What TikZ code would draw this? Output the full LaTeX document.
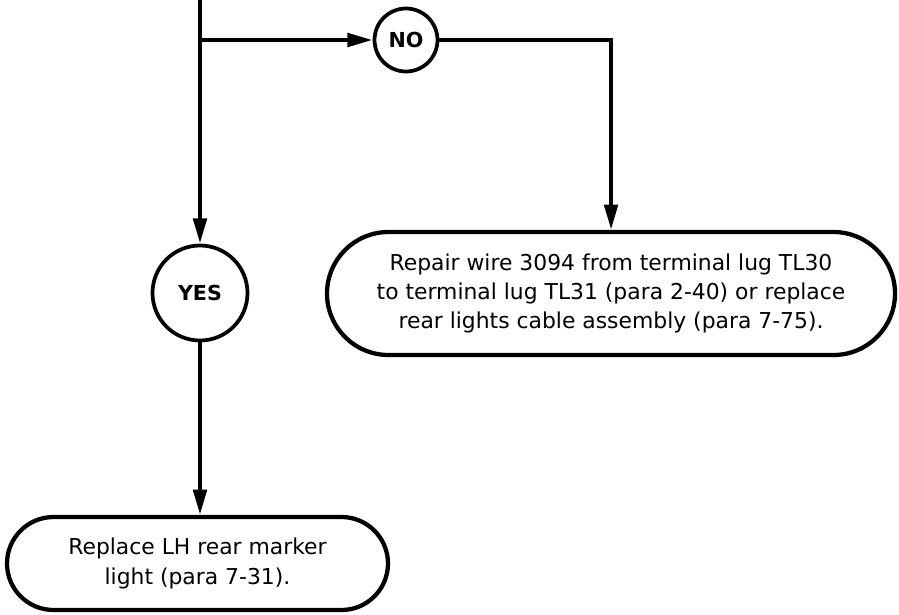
\documentclass[tikz,border=0pt]{standalone}
\usepackage{fontspec}
\setmainfont{DejaVu Sans}
\usetikzlibrary{arrows.meta,shapes.misc}
\begin{document}
\begin{tikzpicture}[x=0.75pt,y=-0.75pt,line width=3.2pt,
  circ/.style={circle,draw,line width=2.8pt,inner sep=0pt,font=\bfseries\fontsize{15.5}{17}\selectfont},
  term/.style={rounded rectangle,draw,line width=3.2pt,align=center,inner sep=0pt,font=\fontsize{16.4}{22}\selectfont},
  arr/.style={-{Triangle[length=19pt,width=10pt]}}]
\useasboundingbox (0,0) rectangle (899,614);
\coordinate (top) at (200,0);
\coordinate (br) at (200,40);
\node[circ,minimum size=47.25pt] (no) at (406,40) {NO};
\node[circ,minimum size=71.25pt] (yes) at (200,293) {YES};
\node[term,minimum width=426pt,minimum height=92.25pt] (rep) at (611,293.5)
  {Repair wire 3094 from terminal lug TL30\\to terminal lug TL31 (para 2-40) or replace\\rear lights cable assembly (para 7-75).};
\node[term,minimum width=285.75pt,minimum height=69.75pt] (rpl) at (197.5,563.5)
  {Replace LH rear marker\\light (para 7-31).};
\draw[arr] (top) -- (yes);
\draw[arr] (br) -- (no);
\draw[arr] (no) -| (rep);
\draw[arr] (yes.south) -- (yes.south |- rpl.north);
\end{tikzpicture}
\end{document}
